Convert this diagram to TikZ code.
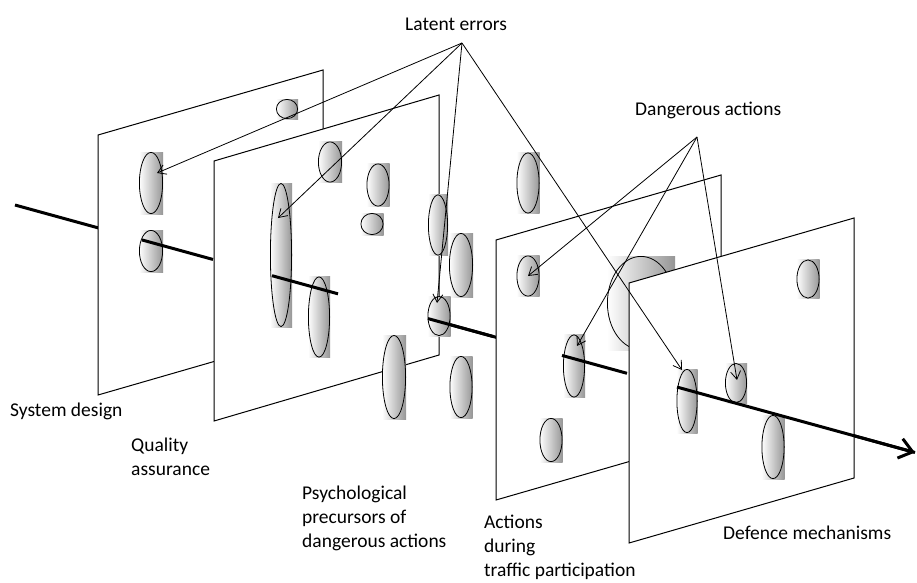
\documentclass[tikz,border=0pt]{standalone}
\usepackage{fontspec}
\setmainfont{Carlito}
\usepackage{tikz}
\usetikzlibrary{arrows.meta,calc}
\definecolor{holegray}{RGB}{150,150,150}
\tikzset{
  plane/.style={draw=black,line width=1pt,fill=white},
  hole/.style 2 args={rectangle,inner sep=0pt,outer sep=0pt,minimum width=#1,minimum height=#2,left color=white,right color=holegray,
    path picture={\draw[line width=0.8pt] let \p1=(path picture bounding box.north east),\p2=(path picture bounding box.south west) in
      (path picture bounding box.center) ellipse ({(\x1-\x2)/2-0.4pt} and {(\y1-\y2)/2-0.4pt});}},
  axis/.style={line width=3pt},
  arr/.style={-{Straight Barb[length=8pt,width=10pt]},line width=0.8pt},
  lbl/.style={anchor=base west,inner sep=0pt,align=left,font=\fontsize{19.5}{24}\selectfont}
}
\begin{document}
\begin{tikzpicture}[x=1pt,y=-1pt]
  \useasboundingbox (0,0) rectangle (917,582);
  \coordinate (axS) at (15,205);
  \coordinate (axE) at (915,452.5);
  \draw[axis] (axS) -- (axE);
  % system design
  \draw[plane] (98,135) -- ++(225,-65) -- ++(0,260) -- ++(-225,65) -- cycle;
  \node[hole={24}{62}] (h1a) at (151,183) {};
  \node[hole={24}{42}] (h1b) at (151,251) {};
  \node[hole={22}{20}] (h1c) at (287,109) {};
  \draw[axis] ($(axS)!0.141!(axE)$) -- ($(axS)!0.22!(axE)$);
  % quality assurance
  \draw[plane] (214,161) -- ++(225,-66) -- ++(0,260) -- ++(-225,66) -- cycle;
  \node[hole={22}{144}] (h2a) at (281,255) {};
  \node[hole={24}{41}] (h2b) at (330,162) {};
  \node[hole={23}{43}] (h2c) at (378,185) {};
  \node[hole={23}{22}] (h2d) at (372,224) {};
  \node[hole={22}{81}] (h2e) at (319,317) {};
  \draw[axis] ($(axS)!0.2856!(axE)$) -- ($(axS)!0.3589!(axE)$);
  % psychological precursors
  \node[hole={20}{61}] (h3a) at (438,225) {};
  \node[hole={24}{64}] (h3b) at (461,265) {};
  \node[hole={23}{40}] (h3c) at (439,316) {};
  \node[hole={24}{84}] (h3d) at (394,377) {};
  \node[hole={23}{62}] (h3e) at (461,387) {};
  \node[hole={23}{61}] (h3f) at (528,183) {};
  \draw[axis] ($(axS)!0.4589!(axE)$) -- ($(axS)!0.5311!(axE)$);
  % actions
  \draw[plane] (496,240) -- ++(225,-65) -- ++(0,260) -- ++(-225,65) -- cycle;
  \node[hole={23}{41}] (h4a) at (528,276) {};
  \node[hole={22}{63}] (h4b) at (574,366) {};
  \node[hole={23}{44}] (h4c) at (551,440) {};
  \node[hole={68}{94}] (h4d) at (641,303) {};
  \draw[axis] ($(axS)!0.6078!(axE)$) -- ($(axS)!0.68!(axE)$);
  % defence
  \draw[plane] (629,283) -- ++(225,-65) -- ++(0,260) -- ++(-225,65) -- cycle;
  \node[hole={21}{64}] (h5a) at (687,401) {};
  \node[hole={22}{40}] (h5b) at (736,383) {};
  \node[hole={23}{64}] (h5c) at (773,447) {};
  \node[hole={23}{39}] (h5d) at (808,279) {};
  \draw[axis,-{Straight Barb[length=13pt,width=20pt]}] ($(axS)!0.7356!(axE)$) -- (axE);

  \node[lbl] (latent) at (405,30) {Latent errors};
  \node[lbl] (danger) at (635,115) {Dangerous actions};
  \coordinate (latentTip) at (462,43);
  \coordinate (dangerTip) at (697,137);
  \draw[arr] (latentTip) -- ([xshift=6pt,yshift=10pt]h1a.center);
  \draw[arr] (latentTip) -- ([xshift=-3pt,yshift=37pt]h2a.center);
  \draw[arr] (latentTip) -- ([xshift=-2pt,yshift=13pt]h3c.center);
  \draw[arr] (latentTip) -- ([xshift=-5pt,yshift=-1pt]h5a.north);
  \draw[arr] (dangerTip) -- (h4a.center);
  \draw[arr] (dangerTip) -- ([xshift=3pt,yshift=20pt]h4b.center);
  \draw[arr] (dangerTip) -- ([xshift=1pt,yshift=3pt]h5b.center);

  \node[lbl] (sysdes) at (10,416) {System design};
  \node[lbl] (quality) at (131,475) {Quality\\assurance};
  \node[lbl] (psych) at (302,547) {Psychological\\precursors of\\dangerous actions};
  \node[lbl] (actions) at (484,576) {Actions\\during\\traffic participation};
  \node[lbl] (defence) at (723,539) {Defence mechanisms};
\end{tikzpicture}
\end{document}
